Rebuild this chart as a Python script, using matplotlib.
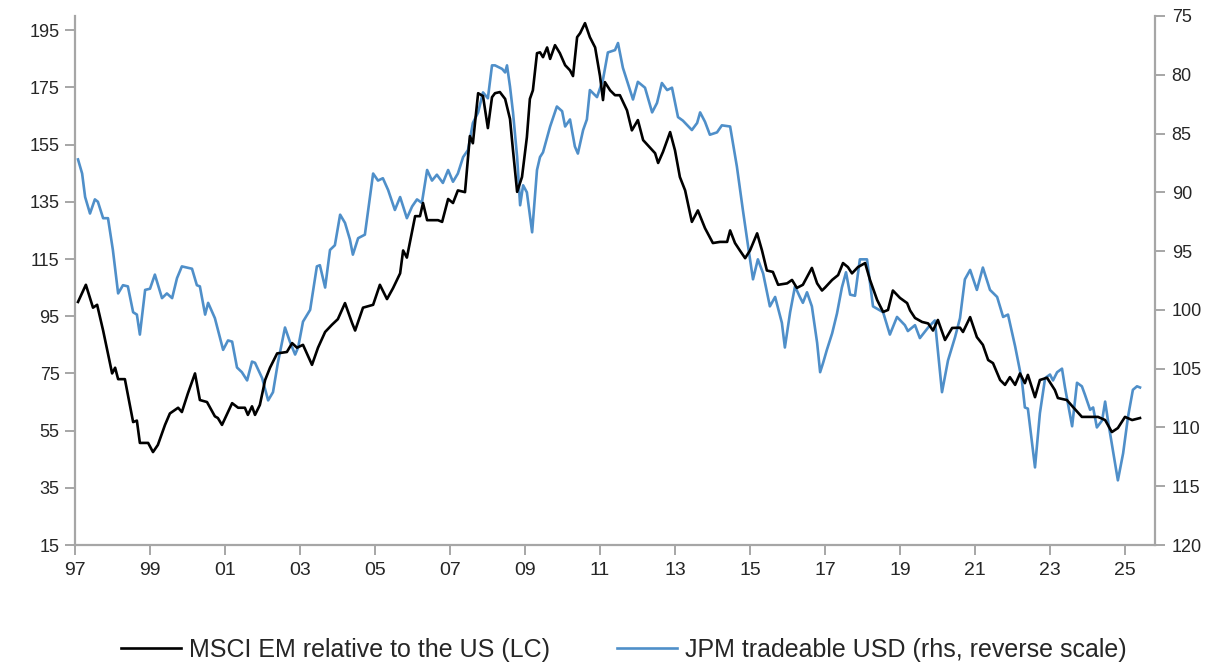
import matplotlib
matplotlib.use("Agg")
import matplotlib.pyplot as plt
from matplotlib import font_manager

# -------------- data --------------
em_years = [1997.08, 1997.29, 1997.48, 1997.59, 1997.75, 1997.99, 1998.07, 1998.15, 1998.33, 1998.55,
            1998.65, 1998.73, 1998.95, 1999.08, 1999.21, 1999.40, 1999.53, 1999.75, 1999.85, 2000.01,
            2000.20, 2000.33, 2000.52, 2000.73, 2000.81, 2000.92, 2001.19, 2001.35, 2001.53, 2001.61,
            2001.72, 2001.80, 2001.93, 2002.07, 2002.20, 2002.39, 2002.65, 2002.79, 2002.92, 2003.08,
            2003.32, 2003.48, 2003.67, 2003.85, 2004.01, 2004.20, 2004.39, 2004.47, 2004.68, 2004.95,
            2005.13, 2005.32, 2005.48, 2005.67, 2005.75, 2005.85, 2006.07, 2006.20, 2006.28, 2006.39,
            2006.68, 2006.79, 2006.95, 2007.08, 2007.21, 2007.40, 2007.48, 2007.53, 2007.61, 2007.75,
            2007.88, 2008.01, 2008.12, 2008.20, 2008.33, 2008.47, 2008.60, 2008.68, 2008.79, 2008.92,
            2009.05, 2009.13, 2009.21, 2009.32, 2009.40, 2009.48, 2009.59, 2009.67, 2009.80, 2009.93,
            2010.07, 2010.20, 2010.28, 2010.39, 2010.47, 2010.60, 2010.73, 2010.87, 2011.00, 2011.08,
            2011.13, 2011.27, 2011.40, 2011.53, 2011.72, 2011.85, 2012.01, 2012.15, 2012.33, 2012.47,
            2012.55, 2012.68, 2012.87, 2013.00, 2013.13, 2013.27, 2013.45, 2013.61, 2013.80, 2014.01,
            2014.20, 2014.39, 2014.47, 2014.60, 2014.73, 2014.87, 2015.00, 2015.19, 2015.32, 2015.45,
            2015.61, 2015.75, 2015.99, 2016.12, 2016.25, 2016.41, 2016.65, 2016.79, 2016.92, 2017.00,
            2017.19, 2017.35, 2017.48, 2017.61, 2017.72, 2017.88, 2018.07, 2018.20, 2018.39, 2018.55,
            2018.68, 2018.81, 2019.00, 2019.19, 2019.27, 2019.40, 2019.59, 2019.75, 2019.88, 2020.01,
            2020.20, 2020.39, 2020.60, 2020.68, 2020.87, 2021.05, 2021.21, 2021.35, 2021.48, 2021.67,
            2021.80, 2021.93, 2022.07, 2022.20, 2022.33, 2022.41, 2022.60, 2022.73, 2022.92, 2023.13,
            2023.21, 2023.45, 2023.61, 2023.85, 2024.07, 2024.28, 2024.47, 2024.65, 2024.81, 2025.00,
            2025.19, 2025.40]
em_rel = [100, 106, 98, 99, 90, 75, 77, 73, 73, 58,
          58.5, 50.7, 50.7, 47.5, 50, 57, 61, 63, 61.5, 68,
          75, 65.7, 65, 60, 59.4, 57, 64.6, 63, 63, 60.5,
          63.5, 60.5, 64, 72.7, 77, 82, 82.5, 85.6, 84, 85,
          78, 84, 89.5, 92, 94, 99.6, 92.6, 90, 98, 99,
          106, 101, 104.8, 110, 118, 115.5, 130, 130, 134.6, 128.6,
          128.6, 128, 136, 134.6, 139, 138.4, 150.7, 158, 155.5, 173,
          172, 160.8, 171.6, 173, 173.4, 171, 164, 153, 138.5, 143.7,
          157.6, 171, 174, 187, 187.3, 185.6, 189, 185, 189.8, 187,
          182.8, 181, 179, 192.6, 194, 197.5, 192.6, 189, 179, 170.6,
          176.9, 174, 172.3, 172.3, 167, 160, 163.6, 156.6, 154, 152,
          148.6, 152.5, 159.4, 153, 143.7, 139, 128, 132, 125.8, 120.6,
          121, 121, 125, 120.6, 118, 115.3, 118, 124, 118, 111,
          110.5, 106, 106.5, 107.7, 104.9, 106, 111.9, 106.5, 104, 105,
          107.7, 109.4, 113.6, 112.2, 110, 112.2, 113.6, 107.7, 100.7, 96.5,
          97.2, 104, 101.4, 99.6, 97, 94.4, 93, 92.5, 90, 93.7,
          86.7, 90.9, 91, 89.5, 94.7, 87.7, 85, 79.7, 78.6, 72.7,
          71, 73.7, 71, 75, 71.6, 74.5, 66.7, 72.7, 73.5, 69.2,
          66.4, 65.7, 63.3, 59.8, 59.8, 59.8, 58.7, 54.5, 55.9, 59.8,
          58.7, 59.4]

usd_years = [1997.08, 1997.19, 1997.27, 1997.40, 1997.53, 1997.61, 1997.75, 1997.88, 1998.01, 1998.15,
             1998.28, 1998.41, 1998.55, 1998.65, 1998.73, 1998.87, 1999.00, 1999.13, 1999.32, 1999.45,
             1999.59, 1999.72, 1999.85, 1999.99, 2000.12, 2000.25, 2000.33, 2000.47, 2000.55, 2000.73,
             2000.95, 2001.08, 2001.19, 2001.32, 2001.45, 2001.59, 2001.72, 2001.80, 2001.99, 2002.15,
             2002.28, 2002.41, 2002.60, 2002.73, 2002.87, 2002.95, 2003.08, 2003.27, 2003.45, 2003.53,
             2003.67, 2003.80, 2003.93, 2004.07, 2004.20, 2004.33, 2004.41, 2004.55, 2004.73, 2004.95,
             2005.08, 2005.21, 2005.35, 2005.53, 2005.67, 2005.85, 2005.99, 2006.12, 2006.25, 2006.39,
             2006.52, 2006.65, 2006.81, 2006.95, 2007.08, 2007.21, 2007.35, 2007.48, 2007.61, 2007.75,
             2007.88, 2008.01, 2008.12, 2008.20, 2008.39, 2008.47, 2008.52, 2008.60, 2008.68, 2008.79,
             2008.87, 2008.95, 2009.05, 2009.19, 2009.32, 2009.40, 2009.48, 2009.67, 2009.85, 2009.99,
             2010.07, 2010.20, 2010.33, 2010.41, 2010.55, 2010.65, 2010.73, 2010.92, 2011.08, 2011.21,
             2011.40, 2011.48, 2011.61, 2011.80, 2011.88, 2012.01, 2012.20, 2012.39, 2012.52, 2012.65,
             2012.79, 2012.92, 2013.08, 2013.21, 2013.45, 2013.59, 2013.67, 2013.80, 2013.93, 2014.12,
             2014.25, 2014.47, 2014.65, 2014.81, 2014.95, 2015.08, 2015.21, 2015.35, 2015.53, 2015.67,
             2015.85, 2015.93, 2016.07, 2016.20, 2016.33, 2016.41, 2016.52, 2016.65, 2016.79, 2016.87,
             2016.95, 2017.05, 2017.19, 2017.32, 2017.45, 2017.56, 2017.67, 2017.80, 2017.93, 2018.12,
             2018.28, 2018.55, 2018.73, 2018.92, 2019.13, 2019.21, 2019.40, 2019.53, 2019.75, 2019.93,
             2020.12, 2020.28, 2020.47, 2020.60, 2020.73, 2020.87, 2021.05, 2021.21, 2021.40, 2021.59,
             2021.75, 2021.88, 2022.07, 2022.25, 2022.33, 2022.41, 2022.60, 2022.73, 2022.87, 2023.00,
             2023.08, 2023.19, 2023.32, 2023.40, 2023.59, 2023.72, 2023.85, 2023.93, 2024.07, 2024.15,
             2024.25, 2024.39, 2024.47, 2024.55, 2024.81, 2024.95, 2025.08, 2025.21, 2025.32, 2025.40]
usd = [87.2, 88.4, 90.4, 91.8, 90.6, 90.8, 92.2, 92.2, 94.9, 98.6,
       97.9, 98, 100.2, 100.4, 102.1, 98.3, 98.2, 97, 99, 98.6,
       99, 97.3, 96.3, 96.4, 96.5, 97.9, 98, 100.4, 99.4, 100.7,
       103.4, 102.6, 102.7, 104.9, 105.3, 106, 104.4, 104.5, 105.8, 107.7,
       107, 104.5, 101.5, 102.7, 103.8, 103.2, 101, 100, 96.3, 96.2,
       98.1, 94.9, 94.5, 91.9, 92.6, 94, 95.3, 93.9, 93.6, 88.4,
       89, 88.8, 89.8, 91.5, 90.4, 92.2, 91.2, 90.6, 90.9, 88.1,
       89, 88.5, 89.2, 88.1, 89.1, 88.4, 87, 86.4, 84.1, 83.2,
       81.5, 82, 79.2, 79.2, 79.5, 79.8, 79.2, 81, 83.2, 87,
       91.1, 89.4, 90, 93.4, 88.1, 87, 86.6, 84.4, 82.7, 83.1,
       84.4, 83.8, 86.1, 86.7, 84.7, 83.8, 81.3, 81.9, 80.4, 78.1,
       77.9, 77.3, 79.4, 81.3, 82.1, 80.6, 81.1, 83.2, 82.4, 80.7,
       81.3, 81.1, 83.6, 83.9, 84.7, 84.1, 83.2, 84, 85.1, 84.9,
       84.3, 84.4, 87.8, 91.5, 94.6, 97.4, 95.7, 96.9, 99.7, 98.9,
       101.1, 103.2, 100.2, 98, 98.9, 99.4, 98.5, 99.7, 102.8, 105.3,
       104.5, 103.4, 102, 100.3, 98.1, 96.8, 98.7, 98.8, 95.7, 95.7,
       99.7, 100.2, 102.1, 100.6, 101.3, 101.8, 101.3, 102.4, 101.5, 100.9,
       107, 104.3, 102.3, 100.7, 97.4, 96.6, 98.3, 96.4, 98.3, 98.9,
       100.6, 100.4, 103.1, 106, 108.3, 108.4, 113.4, 108.8, 105.8, 105.5,
       106, 105.3, 105, 106.6, 109.9, 106.2, 106.5, 107.2, 108.5, 108.3,
       110, 109.4, 107.8, 109.5, 114.5, 112.2, 109.1, 106.8, 106.5, 106.6]

xtick_years = list(range(1997, 2026, 2))
xtick_labels = ["%02d" % (y % 100) for y in xtick_years]
left_ticks = list(range(15, 196, 20))
right_ticks = list(range(75, 121, 5))
labels = ["MSCI EM relative to the US (LC)", "JPM tradeable USD (rhs, reverse scale)"]

# -------------- styling --------------
installed = {f.name for f in font_manager.fontManager.ttflist}
fam = [f for f in ["Liberation Sans Narrow", "Liberation Sans", "DejaVu Sans"] if f in installed]
plt.rcParams["font.family"] = fam

grey = "#a6a6a6"
txt = "#262626"
blue = "#4f8fc9"

fig = plt.figure(figsize=(12.16, 6.67), dpi=100)
ax = fig.add_axes([75 / 1216, 1 - 545 / 667, (1155 - 75) / 1216, (545 - 16) / 667])
ax2 = ax.twinx()

l1, = ax.plot(em_years, em_rel, color="#000000", lw=1.9, zorder=3)
l2, = ax2.plot(usd_years, usd, color=blue, lw=1.9, zorder=2)
ax.set_zorder(ax2.get_zorder() + 1)
ax.patch.set_visible(False)

ax.set_xlim(1997, 2025.8)
ax.set_ylim(15, 200)
ax2.set_ylim(120, 75)

ax.set_xticks(xtick_years)
ax.set_xticklabels(xtick_labels)
ax.set_yticks(left_ticks)
ax2.set_yticks(right_ticks)

for a in (ax, ax2):
    a.spines["top"].set_visible(False)
    for s in ("left", "right", "bottom"):
        a.spines[s].set_color(grey)
        a.spines[s].set_linewidth(1.6)
    a.tick_params(colors=grey, labelcolor=txt, labelsize=13, length=7, width=1.4, direction="out")
ax.spines["right"].set_visible(False)
ax2.spines["left"].set_visible(False)
ax2.spines["bottom"].set_visible(False)
ax.tick_params(axis="y", pad=4)
ax.tick_params(axis="x", pad=5, labelsize=14)
ax2.tick_params(axis="y", pad=5)

fig.legend([l1, l2], labels, loc="center", bbox_to_anchor=(0.513, 0.026), ncol=2,
           frameon=False, fontsize=18, handlelength=2.4, handletextpad=0.3,
           columnspacing=2.7, labelcolor=txt)

fig.savefig("out.png", dpi=100, facecolor="white")
